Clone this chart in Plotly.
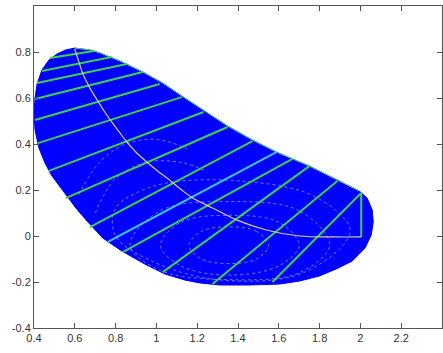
import plotly.graph_objects as go

# Outline of the filled region (closed, clockwise from the top point)
outline_x = [0.600, 0.674, 0.723, 0.821, 0.933, 1.031, 1.124, 1.226, 1.349, 1.471,
             1.588, 1.750, 1.887, 1.994, 2.033, 2.058, 2.063, 2.053, 2.023, 1.960,
             1.882, 1.799, 1.701, 1.603, 1.456, 1.310, 1.212, 1.138, 1.041, 0.943,
             0.830, 0.737, 0.664, 0.605, 0.547, 0.488, 0.454, 0.424, 0.405, 0.400,
             0.405, 0.415, 0.439, 0.473, 0.512, 0.556, 0.600]
outline_y = [0.817, 0.809, 0.796, 0.761, 0.713, 0.665, 0.609, 0.548, 0.478, 0.417,
             0.365, 0.304, 0.243, 0.196, 0.165, 0.113, 0.061, 0.004, -0.052, -0.109,
             -0.143, -0.174, -0.196, -0.209, -0.213, -0.213, -0.204, -0.191, -0.165, -0.122,
             -0.065, -0.009, 0.061, 0.122, 0.191, 0.261, 0.317, 0.383, 0.461, 0.539,
             0.600, 0.661, 0.722, 0.765, 0.791, 0.809, 0.817]

# Upper edge (first 14 outline points)
edge_n = 14

# Centre curve
spine_x = [0.600, 0.620, 0.640, 0.674, 0.713, 0.747, 0.781, 0.821, 0.855, 0.904,
           0.953, 1.006, 1.065, 1.124, 1.178, 1.275, 1.393, 1.539, 1.701, 1.862, 2.004]
spine_y = [0.813, 0.757, 0.704, 0.643, 0.587, 0.539, 0.496, 0.448, 0.409, 0.361,
           0.322, 0.283, 0.243, 0.200, 0.165, 0.122, 0.070, 0.026, 0.000, -0.004, -0.004]

# Cross-section ribs: inner end -> outer end
rib_x0 = [0.478, 0.439, 0.415, 0.405, 0.405, 0.420, 0.473, 0.556, 0.674, 0.762,
          0.835, 1.031, 1.275, 1.569, 2.004]
rib_y0 = [0.774, 0.717, 0.665, 0.596, 0.504, 0.404, 0.283, 0.165, 0.039, -0.026,
          -0.070, -0.157, -0.209, -0.200, -0.004]
rib_x1 = [0.693, 0.781, 0.855, 0.933, 1.016, 1.124, 1.231, 1.349, 1.471, 1.588,
          1.667, 1.750, 1.887, 2.004, 2.004]
rib_y1 = [0.804, 0.778, 0.748, 0.713, 0.661, 0.604, 0.539, 0.474, 0.413, 0.365,
          0.335, 0.304, 0.239, 0.187, 0.187]
rib_color = ["#3fcf4a"] * 9 + ["#3cc8f0"] + ["#3fcf4a"] * 5

# Faint mesh rings and arcs showing through the fill
ring1_x = [1.55, 1.49, 1.36, 1.22, 1.16, 1.22, 1.36, 1.49, 1.55]
ring1_y = [-0.04, 0.02, 0.04, 0.02, -0.04, -0.10, -0.12, -0.10, -0.04]
ring2_x = [1.70, 1.60, 1.36, 1.12, 1.02, 1.12, 1.36, 1.60, 1.70]
ring2_y = [-0.04, 0.06, 0.09, 0.06, -0.04, -0.13, -0.17, -0.13, -0.04]
ring3_x = [1.85, 1.70, 1.36, 1.02, 0.87, 1.02, 1.36, 1.70, 1.85]
ring3_y = [-0.04, 0.11, 0.15, 0.11, -0.04, -0.15, -0.19, -0.16, -0.04]
ring4_x = [1.95, 1.78, 1.40, 1.00, 0.80, 0.80, 0.98, 1.30, 1.72, 1.95]
ring4_y = [0.02, 0.17, 0.24, 0.22, 0.12, 0.00, -0.11, -0.19, -0.16, 0.02]
arc1_x = [0.62, 0.72, 0.85, 1.00, 1.15]
arc1_y = [0.18, 0.32, 0.40, 0.42, 0.38]
arc2_x = [0.70, 0.80, 0.95, 1.12, 1.25]
arc2_y = [0.10, 0.25, 0.32, 0.32, 0.28]
mesh_curves = [(ring1_x, ring1_y), (ring2_x, ring2_y), (ring3_x, ring3_y),
               (ring4_x, ring4_y), (arc1_x, arc1_y), (arc2_x, arc2_y)]

x_ticks = [0.4, 0.6, 0.8, 1.0, 1.2, 1.4, 1.6, 1.8, 2.0, 2.2, 2.4]
x_labels = ["0.4", "0.6", "0.8", "1", "1.2", "1.4", "1.6", "1.8", "2", "2.2", "2.4"]
y_ticks = [-0.4, -0.2, 0.0, 0.2, 0.4, 0.6, 0.8, 1.0]
y_labels = ["-0.4", "-0.2", "0", "0.2", "0.4", "0.6", "0.8", "1"]

fig = go.Figure()

fig.add_trace(go.Scatter(x=outline_x, y=outline_y, mode="lines", fill="toself",
                         fillcolor="#0000ff", line=dict(color="#0000ff", width=1),
                         hoverinfo="skip", showlegend=False))

for mx, my in mesh_curves:
    fig.add_trace(go.Scatter(x=mx, y=my, mode="lines",
                             line=dict(color="rgba(165,165,235,0.7)", width=1,
                                       dash="dot", shape="spline"),
                             hoverinfo="skip", showlegend=False))

fig.add_trace(go.Scatter(x=outline_x[:edge_n], y=outline_y[:edge_n], mode="lines",
                         line=dict(color="#5ad65a", width=1), hoverinfo="skip",
                         showlegend=False))

for x0, y0, x1, y1, c in zip(rib_x0, rib_y0, rib_x1, rib_y1, rib_color):
    fig.add_trace(go.Scatter(x=[x0, x1], y=[y0, y1], mode="lines",
                             line=dict(color=c, width=2), hoverinfo="skip",
                             showlegend=False))

fig.add_trace(go.Scatter(x=spine_x, y=spine_y, mode="lines",
                         line=dict(color="#d8cc8c", width=1.2, shape="spline"),
                         hoverinfo="skip", showlegend=False))

axis_common = dict(showgrid=False, zeroline=False, showline=True, linecolor="#555555",
                   linewidth=1, mirror="ticks", ticks="inside", ticklen=5,
                   tickcolor="#555555", tickfont=dict(family="Liberation Sans, Arial",
                                                      size=11, color="#333333"))

fig.update_xaxes(range=[0.4, 2.4], tickvals=x_ticks, ticktext=x_labels, **axis_common)
fig.update_yaxes(range=[-0.4, 1.0], tickvals=y_ticks, ticktext=y_labels, **axis_common)

fig.update_layout(width=443, height=353, margin=dict(l=34, r=1, t=6, b=25),
                  plot_bgcolor="white", paper_bgcolor="white")

fig.write_html("out.html")
